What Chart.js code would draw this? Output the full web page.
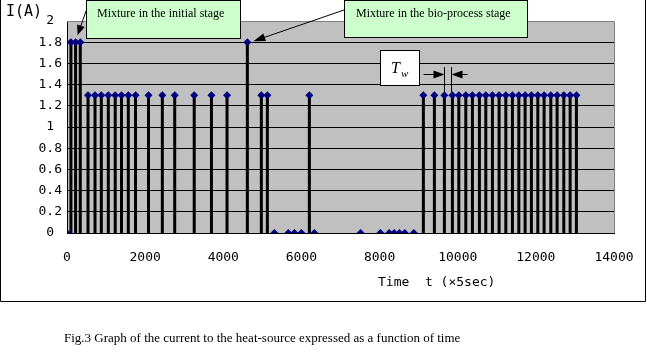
<!DOCTYPE html>
<html><head><meta charset="utf-8">
<script src="https://cdn.jsdelivr.net/npm/chart.js@4/dist/chart.umd.min.js"></script>
<style>html,body{margin:0;padding:0;background:#fff}canvas{display:block}</style>
</head><body>
<canvas id="c" width="647" height="353"></canvas>
<script>
// ---- data ----
const timeValues = [0,100,220,340,
  538,717,878,1057,1234,1395,1569,1754,2086,2440,2757,3256,3697,4096,
  4616,4974,5128,5307,5665,5819,5998,6203,6331,
  7514,8020,8248,8376,8507,8645,8876,
  9121,9403,9659,9864,10028,10207,10376,10555,10719,10888,11059,11231,
  11400,11564,11725,11886,12050,12211,12383,12544,12715,12877,13038];
const currentValues = [0,1.8,1.8,1.8,
  1.3,1.3,1.3,1.3,1.3,1.3,1.3,1.3,1.3,1.3,1.3,1.3,1.3,1.3,
  1.8,1.3,1.3,0,0,0,0,1.3,0,
  0,0,0,0,0,0,0,
  1.3,1.3,1.3,1.3,1.3,1.3,1.3,1.3,1.3,1.3,1.3,1.3,
  1.3,1.3,1.3,1.3,1.3,1.3,1.3,1.3,1.3,1.3,1.3];
const yTickValues = [0,0.2,0.4,0.6,0.8,1,1.2,1.4,1.6,1.8,2];
const yTickLabels = ['0','0.2','0.4','0.6','0.8','1','1.2','1.4','1.6','1.8','2'];
const xTickValues = [0,2000,4000,6000,8000,10000,12000,14000];
const xTickLabels = ['0','2000','4000','6000','8000','10000','12000','14000'];
const yAxisTitle = 'I(A)';
const xAxisTitle = 'Time  t (×5sec)';
const captionText = 'Fig.3 Graph of the current to the heat-source expressed as a function of time';
const noteInitial = 'Mixture in the initial stage';
const noteBio = 'Mixture in the bio-process stage';
const noteInitialIndex = 2;   // point the first note points to
const noteBioIndex = 18;      // point the second note points to
const twIndexA = 36, twIndexB = 37; // interval marked as T_w

// ---- derived datasets ----
const markerPoints = timeValues.map((t,i)=>({x:t,y:currentValues[i]}));
const stemPoints = [];
timeValues.forEach((t,i)=>{
  if (currentValues[i] > 0) {
    stemPoints.push({x:t,y:0},{x:t,y:currentValues[i]},{x:t,y:null});
  }
});

function arrow(ctx,x1,y1,x2,y2,len,w){
  const a=Math.atan2(y2-y1,x2-x1);
  ctx.beginPath();ctx.moveTo(x1,y1);ctx.lineTo(x2-Math.cos(a)*len*0.6,y2-Math.sin(a)*len*0.6);ctx.stroke();
  ctx.beginPath();
  ctx.moveTo(x2,y2);
  ctx.lineTo(x2-Math.cos(a)*len+Math.sin(a)*w/2, y2-Math.sin(a)*len-Math.cos(a)*w/2);
  ctx.lineTo(x2-Math.cos(a)*len-Math.sin(a)*w/2, y2-Math.sin(a)*len+Math.cos(a)*w/2);
  ctx.closePath();ctx.fill();
}

const deco = {
  id:'deco',
  beforeDraw(chart){
    const {ctx,chartArea:a}=chart;
    ctx.save();
    ctx.fillStyle='#ffffff';ctx.fillRect(0,0,chart.width,chart.height);
    ctx.fillStyle='#c0c0c0';ctx.fillRect(a.left,a.top,a.right-a.left,a.bottom-a.top);
    ctx.restore();
  },
  afterDraw(chart){
    const {ctx,chartArea:a,scales:{x,y}}=chart;
    ctx.save();
    // plot area top/right border
    ctx.strokeStyle='#808080';ctx.lineWidth=1;
    ctx.beginPath();ctx.moveTo(a.left,a.top+0.5);ctx.lineTo(a.right+0.5,a.top+0.5);ctx.lineTo(a.right+0.5,a.bottom);ctx.stroke();
    // outer chart border
    ctx.strokeStyle='#000';
    ctx.beginPath();ctx.moveTo(0.5,0);ctx.lineTo(0.5,301.5);ctx.lineTo(645.5,301.5);ctx.lineTo(645.5,0);ctx.stroke();
    // axis titles
    ctx.fillStyle='#000';
    ctx.font='15px "DejaVu Sans Mono"';ctx.textBaseline='middle';ctx.textAlign='left';
    ctx.fillText(yAxisTitle,6,12);
    ctx.font='13px "DejaVu Sans Mono"';
    ctx.fillText(xAxisTitle,378,283);
    // caption
    ctx.font='13px "Liberation Serif"';ctx.textBaseline='alphabetic';
    ctx.fillText(captionText,64,342);
    // arrows of notes
    ctx.strokeStyle='#000';ctx.fillStyle='#000';ctx.lineWidth=1;
    arrow(ctx,86,11,x.getPixelForValue(timeValues[noteInitialIndex])+2,y.getPixelForValue(currentValues[noteInitialIndex])-7,10,8);
    arrow(ctx,344,10,x.getPixelForValue(timeValues[noteBioIndex])+6,y.getPixelForValue(currentValues[noteBioIndex])-1,12,8);
    // note boxes
    ctx.fillStyle='#ccffcc';ctx.strokeStyle='#000';
    ctx.fillRect(86.5,0.5,154,38);ctx.strokeRect(86.5,0.5,154,38);
    ctx.fillRect(344.5,0.5,183,37);ctx.strokeRect(344.5,0.5,183,37);
    ctx.fillStyle='#000';ctx.font='12px "Liberation Serif"';ctx.textBaseline='middle';
    ctx.fillText(noteInitial,97,14);
    ctx.fillText(noteBio,356,14);
    // T_w box
    ctx.fillStyle='#fff';ctx.fillRect(380.5,50.5,39,35);ctx.strokeRect(380.5,50.5,39,35);
    ctx.fillStyle='#000';ctx.textBaseline='alphabetic';
    ctx.font='italic 16px "Liberation Serif"';ctx.fillText('T',391,72.5);
    ctx.font='italic 11px "Liberation Serif"';ctx.fillText('w',401,77);
    // T_w dimension
    const xa=Math.round(x.getPixelForValue(timeValues[twIndexA]))+0.5;
    const xb=Math.round(x.getPixelForValue(timeValues[twIndexB]))-0.5;
    const yb=y.getPixelForValue(currentValues[twIndexA])-3;
    ctx.beginPath();ctx.moveTo(xa,67);ctx.lineTo(xa,yb);ctx.moveTo(xb,67);ctx.lineTo(xb,yb);ctx.stroke();
    arrow(ctx,xa-21,74.5,xa,74.5,11,8);
    arrow(ctx,xb+16,74.5,xb,74.5,11,8);
    ctx.restore();
  }
};

new Chart(document.getElementById('c'),{
  type:'scatter',
  data:{datasets:[
    {type:'scatter',data:markerPoints,pointStyle:'rectRot',pointRadius:4,pointHoverRadius:4,
     backgroundColor:'#000080',borderColor:'#000080',borderWidth:0,order:0},
    {type:'line',data:stemPoints,borderColor:'#000',borderWidth:3,pointRadius:0,spanGaps:false,
     showLine:true,fill:false,order:1,tension:0}
  ]},
  options:{
    responsive:false,animation:false,devicePixelRatio:1,
    layout:{padding:{left:0,top:21,right:33,bottom:0}},
    plugins:{legend:{display:false},tooltip:{enabled:false}},
    scales:{
      x:{type:'linear',min:0,max:14000,
        afterFit(s){s.height=120;s.paddingLeft=0;s.paddingRight=0;},
        afterBuildTicks(s){s.ticks=xTickValues.map(v=>({value:v}));},
        grid:{display:false,drawTicks:false},
        border:{display:true,color:'#000',width:1},
        ticks:{padding:17,color:'#000',font:{family:'"DejaVu Sans Mono"',size:13},maxRotation:0,autoSkip:false,
          callback:(v)=>{const i=xTickValues.indexOf(v);return i>=0?xTickLabels[i]:'';}}
      },
      y:{type:'linear',min:0,max:2,
        afterFit(s){s.width=67;s.paddingTop=0;s.paddingBottom=0;},
        afterBuildTicks(s){s.ticks=yTickValues.map(v=>({value:v}));},
        grid:{color:(c)=>c.tick&&c.tick.value>=2?'rgba(0,0,0,0)':'#000',lineWidth:1,drawTicks:false},
        border:{display:true,color:'#000',width:1},
        ticks:{padding:5,crossAlign:'center',color:'#000',font:{family:'"DejaVu Sans Mono"',size:13},autoSkip:false,
          callback:(v)=>{const i=yTickValues.findIndex(t=>Math.abs(t-v)<1e-9);return i>=0?yTickLabels[i]:'';}}
      }
    }
  },
  plugins:[deco]
});
</script>
</body></html>
